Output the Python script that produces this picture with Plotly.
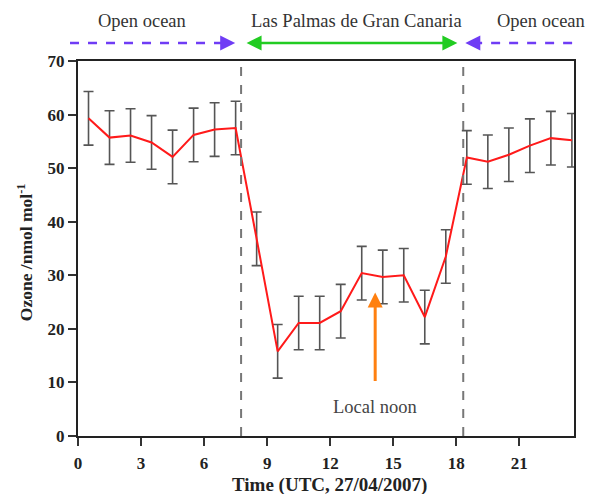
import plotly.graph_objects as go

hours = [0.5, 1.5, 2.5, 3.5, 4.5, 5.5, 6.5, 7.5, 8.5, 9.5, 10.5, 11.5,
         12.5, 13.5, 14.5, 15.5, 16.5, 17.5, 18.5, 19.5, 20.5, 21.5, 22.5, 23.5]
ozone = [59.3, 55.7, 56.1, 54.8, 52.1, 56.2, 57.2, 57.5, 36.8, 15.8, 21.1, 21.1,
         23.3, 30.4, 29.7, 30.0, 22.2, 33.5, 52.0, 51.2, 52.5, 54.2, 55.6, 55.2]
ozone_err = [5.0, 5.0, 5.0, 5.0, 5.0, 5.0, 5.0, 5.0, 5.0, 5.0, 5.0, 5.0,
             5.0, 5.0, 5.0, 5.0, 5.0, 5.0, 5.0, 5.0, 5.0, 5.0, 5.0, 5.0]
boundaries = [7.76, 18.33]
x_ticks = [0, 3, 6, 9, 12, 15, 18, 21]
y_ticks = [0, 10, 20, 30, 40, 50, 60, 70]
region_labels = ["Open ocean", "Las Palmas de Gran Canaria", "Open ocean"]
region_label_x = [3.05, 13.26, 22.05]
noon_x = 14.14

SERIF = "Liberation Serif, Times New Roman, serif"
X_MAX = 23.6
PURPLE = "#6f3cf5"
GREEN = "#22cc22"


def px(xv):
    return xv / X_MAX


fig = go.Figure()
fig.add_trace(go.Scatter(
    x=hours, y=ozone, mode="lines",
    line=dict(color="#ff1a1a", width=2),
    error_y=dict(type="data", array=ozone_err, visible=True,
                 color="#555555", thickness=1.6, width=5),
    showlegend=False, hoverinfo="skip", cliponaxis=False))

shapes = []
for b in boundaries:
    shapes.append(dict(type="line", xref="x", yref="y", x0=b, x1=b, y0=0, y1=70,
                       line=dict(color="#777777", width=2, dash="dash")))
arrow_y = 1.048
shapes.append(dict(type="line", xref="paper", yref="paper", x0=px(-0.38), x1=px(7.1),
                   y0=arrow_y, y1=arrow_y,
                   line=dict(color=PURPLE, width=2.5, dash="dash")))
shapes.append(dict(type="line", xref="paper", yref="paper", x0=px(18.8), x1=px(23.81),
                   y0=arrow_y, y1=arrow_y,
                   line=dict(color=PURPLE, width=2.5, dash="dash")))

D = dict(xref="x domain", yref="y domain", axref="x domain", ayref="y domain")

annotations = []
for lbl, lx in zip(region_labels, region_label_x):
    annotations.append(dict(x=px(lx), y=1.107, xref="paper", yref="paper", text=lbl,
                            showarrow=False, xanchor="center", yanchor="middle",
                            font=dict(family=SERIF, size=18.5, color="#333333")))
annotations.append(dict(x=px(7.48), y=arrow_y, ax=px(6.8), ay=arrow_y, **D, text="",
                        showarrow=True, arrowhead=2, arrowsize=1.2, arrowwidth=2.5,
                        arrowcolor=PURPLE))
annotations.append(dict(x=px(18.43), y=arrow_y, ax=px(19.1), ay=arrow_y, **D, text="",
                        showarrow=True, arrowhead=2, arrowsize=1.2, arrowwidth=2.5,
                        arrowcolor=PURPLE))
annotations.append(dict(x=px(18.05), y=arrow_y, ax=px(7.95), ay=arrow_y, **D, text="",
                        showarrow=True, arrowhead=2, startarrowhead=2,
                        arrowside="end+start", arrowsize=1.2, startarrowsize=1.2,
                        arrowwidth=2.5, arrowcolor=GREEN))
annotations.append(dict(x=noon_x, y=26.8, ax=noon_x, ay=10.0, xref="x", yref="y",
                        axref="x", ayref="y", text="", showarrow=True, arrowhead=2,
                        arrowsize=1.0, arrowwidth=3, arrowcolor="#ff8010"))
annotations.append(dict(x=noon_x, y=5.4, xref="x", yref="y", text="Local noon",
                        showarrow=False, font=dict(family=SERIF, size=18.5, color="#444444")))
# axis titles
annotations.append(dict(x=0.508, y=-0.1307, xref="paper", yref="paper",
                        text="Time (UTC, 27/04/2007)", showarrow=False,
                        xanchor="center", yanchor="middle",
                        font=dict(family=SERIF, size=19, color="#222", weight="bold")))
annotations.append(dict(x=-0.107, y=0.49, xref="paper", yref="paper",
                        text="Ozone /nmol mol<sup>-1</sup>", showarrow=False,
                        textangle=-90, xanchor="center", yanchor="middle",
                        font=dict(family=SERIF, size=17.5, color="#222", weight="bold")))

axis_common = dict(ticks="outside", ticklen=8, tickwidth=1.5, tickcolor="#333",
                   showline=True, linecolor="#222", linewidth=2, mirror=True,
                   showgrid=False, zeroline=False, automargin=False,
                   tickfont=dict(family=SERIF, size=17, color="#222", weight="bold"))

# page body has an 8px margin, so plot-area margins are offset accordingly
fig.update_layout(
    width=599, height=494,
    margin=dict(l=70, r=33, t=53, b=66),
    paper_bgcolor="white", plot_bgcolor="white",
    shapes=shapes, annotations=annotations,
    xaxis=dict(range=[0, X_MAX], tickvals=x_ticks, ticklabelstandoff=3, **axis_common),
    yaxis=dict(range=[0, 70], tickvals=y_ticks, **axis_common),
)

fig.write_html("out.html")
